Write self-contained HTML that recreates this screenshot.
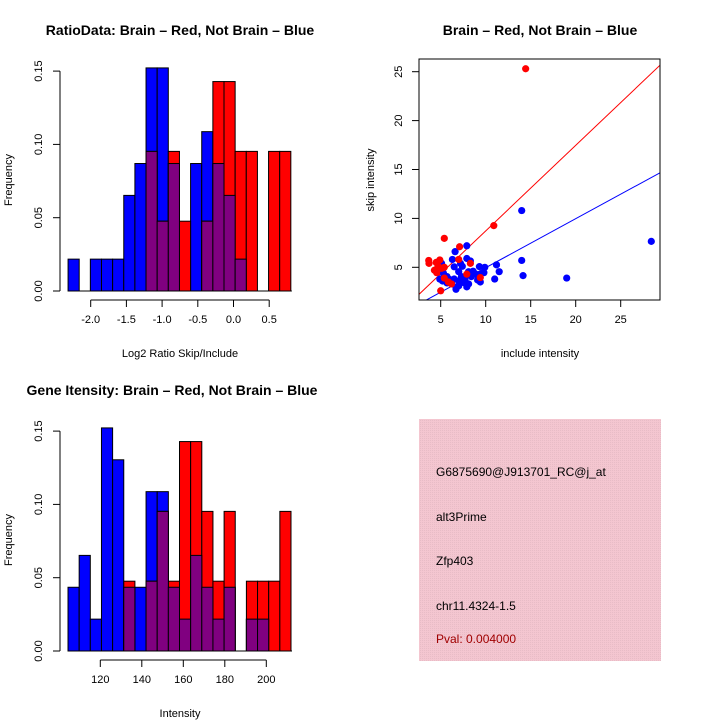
<!DOCTYPE html>
<html><head><meta charset="utf-8"><style>
body{margin:0;background:#fff}
svg{display:block;font-family:"Liberation Sans",sans-serif}
</style></head><body>
<svg id="c" width="720" height="720" viewBox="0 0 720 720">
<defs>
<pattern id="pk" width="2" height="2" patternUnits="userSpaceOnUse"><rect width="2" height="2" fill="#f4c6d0"/><rect width="1" height="1" fill="#e8bcc6"/></pattern>
</defs>
<text x="180" y="35" font-size="14" font-weight="bold" text-anchor="middle">RatioData: Brain – Red, Not Brain – Blue</text>
<text x="540" y="35" font-size="14" font-weight="bold" text-anchor="middle">Brain – Red, Not Brain – Blue</text>
<text x="172" y="395" font-size="14" font-weight="bold" text-anchor="middle">Gene Itensity: Brain – Red, Not Brain – Blue</text>
<text x="180" y="357" font-size="11" text-anchor="middle">Log2 Ratio Skip/Include</text>
<text x="180" y="717" font-size="11" text-anchor="middle">Intensity</text>
<text x="540" y="357" font-size="11" text-anchor="middle">include intensity</text>
<text transform="translate(12,180) rotate(-90)" font-size="11" text-anchor="middle">Frequency</text>
<text transform="translate(12,540) rotate(-90)" font-size="11" text-anchor="middle">Frequency</text>
<text transform="translate(374,180) rotate(-90)" font-size="11" text-anchor="middle">skip intensity</text>
<g>
<rect x="419" y="419" width="242" height="242" fill="url(#pk)"/>
<text x="436" y="476" font-size="12">G6875690@J913701_RC@j_at</text>
<text x="436" y="521" font-size="12">alt3Prime</text>
<text x="436" y="565" font-size="12">Zfp403</text>
<text x="436" y="610" font-size="12">chr11.4324-1.5</text>
<text x="436" y="643" font-size="12" fill="#a00000">Pval: 0.004000</text>
</g>
<g id="g1"></g><g id="g2"></g><g id="g3"></g>
</svg>
<script>
// Ratio histogram data
const ratioBlue=[1,0,1,1,1,3,4,7,7,4,0,4,5,4,3,1,0,0,0,0];
const ratioRed=[0,0,0,0,0,0,0,2,1,2,1,0,1,3,3,2,2,0,2,2];
const ratioXTicks=["-2.0","-1.5","-1.0","-0.5","0.0","0.5"];
const ratioXTickVals=[-2,-1.5,-1,-0.5,0,0.5];
// Intensity histogram data
const intBlue=[2,3,1,7,6,2,2,5,5,2,1,3,2,1,2,0,1,1,0,0];
const intRed=[0,0,0,0,0,1,0,1,2,1,3,3,2,1,2,0,1,1,1,2];
const intXTicks=["120","140","160","180","200"];
const intXTickVals=[120,140,160,180,200];
const freqTicks=["0.00","0.05","0.10","0.15"];
const freqTickVals=[0,0.05,0.1,0.15];
// Scatter data
const redX=[14.44,10.9,5.4,7.1,3.67,3.7,4.9,4.5,4.3,4.55,5.4,5.4,5.0,5.85,7.0,8.3,7.9,9.4,5.1,4.7,6.2];
const redY=[25.3,9.26,7.96,7.1,5.7,5.4,5.75,5.5,4.7,4.45,5.0,3.9,2.6,3.5,5.8,5.4,4.3,3.95,4.9,5.1,3.3];
const blueX=[14,14,14.15,28.4,19,11.2,11.5,11,7.9,6.6,7.9,8.3,6.3,7.2,6.5,7.4,7,8.1,8.4,9.3,9.9,9.8,9.4,8.9,9.4,5.1,5.3,4.9,5.2,5.7,6.2,6.7,6.7,7.1,7.5,7.9,8.1,6.5,7,7.3,6,7.7,7,8.6,5.7,9.1];
const blueY=[10.8,5.7,4.15,7.65,3.9,5.25,4.55,3.8,7.2,6.6,5.9,5.65,5.8,5.4,5.05,5.1,4.55,4.55,4.05,5.07,5,4.45,4.3,4.3,3.5,5.4,4.4,3.8,3.6,3.4,3.4,2.95,2.75,3.35,3.45,3.0,3.3,3.8,3.6,4.05,3.75,3.7,3.1,4.6,4.05,3.7];
const fitRed=[-0.03,0.875];
const fitBlue=[-0.05,0.501];
const scXTicks=["5","10","15","20","25"];
const scXTickVals=[5,10,15,20,25];
const scYTicks=["5","10","15","20","25"];
const scYTickVals=[5,10,15,20,25];

const NS="http://www.w3.org/2000/svg";
function mk(p,t,a){const e=document.createElementNS(NS,t);for(const k in a)e.setAttribute(k,a[k]);p.appendChild(e);return e;}

function hist(g,blue,red,nB,nR,x0,bw,xs,base,xTicks,xVals,axY,prefix){
  const ys=v=>base-v*1466;
  blue.forEach((c,i)=>{if(!c)return;const l=xs(x0+i*bw),r=xs(x0+(i+1)*bw);
    const e=mk(g,'rect',{x:l,y:ys(c/nB),width:r-l,height:base-ys(c/nB),fill:'#0000ff',stroke:'#000'});
    
    });
  red.forEach((c,i)=>{if(!c)return;const l=xs(x0+i*bw),r=xs(x0+(i+1)*bw);
    const e=mk(g,'rect',{x:l,y:ys(c/nR),width:r-l,height:base-ys(c/nR),fill:'#ff0000',stroke:'#000'});
    
    });
  blue.forEach((c,i)=>{const m=Math.min(c/nB,red[i]/nR);if(!m)return;const l=xs(x0+i*bw),r=xs(x0+(i+1)*bw);
    const e=mk(g,'rect',{x:l,y:ys(m),width:r-l,height:base-ys(m),fill:'#800080',stroke:'#000'});
    
    });
  mk(g,'line',{x1:xs(x0),x2:xs(x0+20*bw)+1,y1:base,y2:base,stroke:'#000'});
  mk(g,'line',{x1:xs(xVals[0]),x2:xs(xVals[xVals.length-1]),y1:axY,y2:axY,stroke:'#000'});
  xVals.forEach((v,i)=>{mk(g,'line',{x1:xs(v),x2:xs(v),y1:axY,y2:axY+7,stroke:'#000'});
    const t=mk(g,'text',{x:xs(v),y:axY+23,'font-size':11,'text-anchor':'middle'});t.textContent=xTicks[i];
    
    });
  mk(g,'line',{x1:60,x2:60,y1:ys(0),y2:ys(0.15),stroke:'#000'});
  freqTickVals.forEach((v,i)=>{mk(g,'line',{x1:53,x2:60,y1:ys(v),y2:ys(v),stroke:'#000'});
    const t=mk(g,'text',{transform:`translate(42,${ys(v)}) rotate(-90)`,'font-size':11,'text-anchor':'middle'});t.textContent=freqTicks[i];
    
    });
}
hist(document.getElementById('g1'),ratioBlue,ratioRed,46,21,-2.317,0.156,v=>90.7+(v+2)*71.4,291,ratioXTicks,ratioXTickVals,300,'ratio');
hist(document.getElementById('g2'),intBlue,intRed,46,21,104.44,5.373,v=>100.3+(v-120)*2.075,651,intXTicks,intXTickVals,660,'intensity');

const g=document.getElementById('g3');
const sx=v=>440.7+(v-5)*9, sy=v=>267.3-(v-5)*9.78;
const L=419,R=660,T=59,B=300;
const cp=mk(g,'clipPath',{id:'sc'});mk(cp,'rect',{x:L,y:T,width:R-L,height:B-T});
const xa=(L-440.7)/9+5, xb=(R-440.7)/9+5;
[[fitRed,'#ff0000','red-fit-line'],[fitBlue,'#0000ff','blue-fit-line']].forEach(([f,c,n])=>{
  const e=mk(g,'line',{x1:sx(xa),y1:sy(f[0]+f[1]*xa),x2:sx(xb),y2:sy(f[0]+f[1]*xb),stroke:c,'stroke-width':1,'clip-path':'url(#sc)'});
  
  });
blueX.forEach((x,i)=>{const e=mk(g,'circle',{cx:sx(x),cy:sy(blueY[i]),r:3.6,fill:'#0000ff'});
  
  });
redX.forEach((x,i)=>{const e=mk(g,'circle',{cx:sx(x),cy:sy(redY[i]),r:3.6,fill:'#ff0000'});
  
  });
const box=mk(g,'rect',{x:L,y:T,width:R-L,height:B-T,fill:'none',stroke:'#000'});


scXTickVals.forEach((v,i)=>{mk(g,'line',{x1:sx(v),x2:sx(v),y1:B,y2:B+7,stroke:'#000'});
  const t=mk(g,'text',{x:sx(v),y:B+23,'font-size':11,'text-anchor':'middle'});t.textContent=scXTicks[i];
  
  });
scYTickVals.forEach((v,i)=>{mk(g,'line',{x1:L-7,x2:L,y1:sy(v),y2:sy(v),stroke:'#000'});
  const t=mk(g,'text',{transform:`translate(402,${sy(v)}) rotate(-90)`,'font-size':11,'text-anchor':'middle'});t.textContent=scYTicks[i];
  
  });
</script>
</body></html>
